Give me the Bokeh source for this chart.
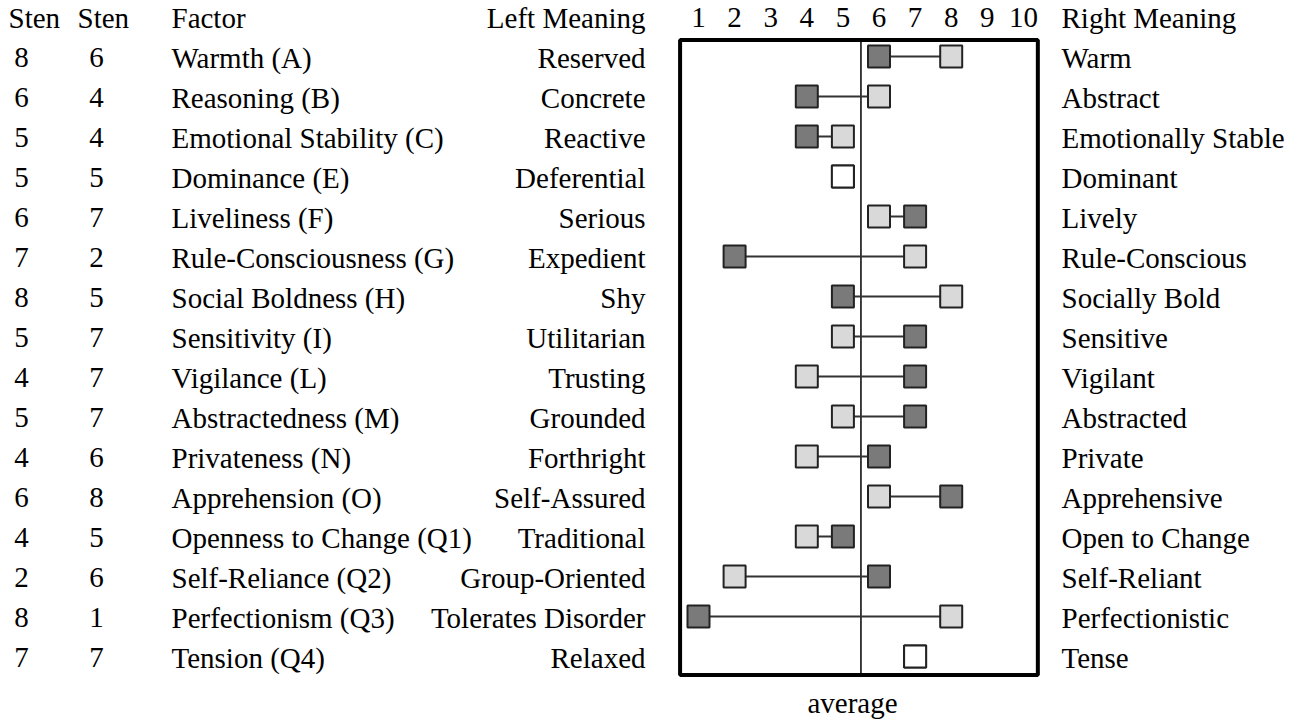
from bokeh.plotting import figure
from bokeh.models import Range1d, ColumnDataSource
from bokeh.core.properties import value
from bokeh.embed import file_html
from bokeh.resources import INLINE

# ---- data ----
factors = ["Warmth (A)", "Reasoning (B)", "Emotional Stability (C)", "Dominance (E)",
           "Liveliness (F)", "Rule-Consciousness (G)", "Social Boldness (H)", "Sensitivity (I)",
           "Vigilance (L)", "Abstractedness (M)", "Privateness (N)", "Apprehension (O)",
           "Openness to Change (Q1)", "Self-Reliance (Q2)", "Perfectionism (Q3)", "Tension (Q4)"]
left_meaning = ["Reserved", "Concrete", "Reactive", "Deferential", "Serious", "Expedient", "Shy",
                "Utilitarian", "Trusting", "Grounded", "Forthright", "Self-Assured", "Traditional",
                "Group-Oriented", "Tolerates Disorder", "Relaxed"]
right_meaning = ["Warm", "Abstract", "Emotionally Stable", "Dominant", "Lively", "Rule-Conscious",
                 "Socially Bold", "Sensitive", "Vigilant", "Abstracted", "Private", "Apprehensive",
                 "Open to Change", "Self-Reliant", "Perfectionistic", "Tense"]
sten1 = [8, 6, 5, 5, 6, 7, 8, 5, 4, 5, 4, 6, 4, 2, 8, 7]
sten2 = [6, 4, 4, 5, 7, 2, 5, 7, 7, 7, 6, 8, 5, 6, 1, 7]
ticks = list(range(1, 11))
headers = ["Sten", "Sten", "Factor", "Left Meaning", "Right Meaning"]

LIGHT = "#d9d9d9"
DARK = "#7a7a7a"
WHITE = "#ffffff"
FONT = value("Liberation Serif")
FS = "29px"

rows = list(range(len(factors)))
trows = [r + 0.03 for r in rows]

W, H = 1298, 720
UNIT = 36.1          # px per sten unit
X1 = 698.0           # px position of sten 1
ROW0, ROWH = 56.0, 40.0

p = figure(width=W, height=H, output_backend="svg", toolbar_location=None,
           x_range=Range1d(1 - X1 / UNIT, 1 + (W - X1) / UNIT),
           y_range=Range1d((H - ROW0) / ROWH, -ROW0 / ROWH),
           min_border=0, min_border_left=0, min_border_right=0,
           min_border_top=0, min_border_bottom=0)
p.extra_x_ranges = {"px": Range1d(0, W)}
p.axis.visible = False
p.grid.visible = False
p.outline_line_color = None
p.background_fill_color = "white"
p.border_fill_color = "white"

# box and average line
p.quad(left=[0.49], right=[10.4], top=[-0.41], bottom=[15.46],
       fill_color=None, line_color="black", line_width=4)
p.segment(x0=[5.5], x1=[5.5], y0=[-0.41], y1=[15.46], line_color="black", line_width=1.5)

# connecting segments
src = ColumnDataSource(dict(row=rows, s1=sten1, s2=sten2))
p.segment(x0="s1", x1="s2", y0="row", y1="row", source=src, line_color="#333333", line_width=2)

# squares
def colors(a, b, which):
    out = []
    for x, y in zip(a, b):
        if x == y:
            out.append(WHITE)
        else:
            out.append(LIGHT if which == 1 else DARK)
    return out

p.scatter(x=sten2, y=rows, marker="square", size=22, fill_color=colors(sten1, sten2, 2),
          line_color="#222222", line_width=2)
p.scatter(x=sten1, y=rows, marker="square", size=22, fill_color=colors(sten1, sten2, 1),
          line_color="#222222", line_width=2)

# tick labels on top
p.text(x=ticks, y=[-0.97] * len(ticks), text=[str(t) for t in ticks], text_align="center",
       text_baseline="middle", text_font=FONT, text_font_size=FS, text_color="black")

# headers
p.text(x=[8, 77, 171], y=[-0.97] * 3, text=headers[:3], text_align="left", text_baseline="middle",
       text_font=FONT, text_font_size=FS, text_color="black", x_range_name="px")
p.text(x=[645], y=[-0.97], text=[headers[3]], text_align="right", text_baseline="middle",
       text_font=FONT, text_font_size=FS, text_color="black", x_range_name="px")
p.text(x=[1061], y=[-0.97], text=[headers[4]], text_align="left", text_baseline="middle",
       text_font=FONT, text_font_size=FS, text_color="black", x_range_name="px")

# columns
n = len(rows)
p.text(x=[21] * n, y=trows, text=[str(v) for v in sten1], text_align="center",
       text_baseline="middle", text_font=FONT, text_font_size=FS, x_range_name="px")
p.text(x=[96] * n, y=trows, text=[str(v) for v in sten2], text_align="center",
       text_baseline="middle", text_font=FONT, text_font_size=FS, x_range_name="px")
p.text(x=[171] * n, y=trows, text=factors, text_align="left",
       text_baseline="middle", text_font=FONT, text_font_size=FS, x_range_name="px")
p.text(x=[645] * n, y=trows, text=left_meaning, text_align="right",
       text_baseline="middle", text_font=FONT, text_font_size=FS, x_range_name="px")
p.text(x=[1061] * n, y=trows, text=right_meaning, text_align="left",
       text_baseline="middle", text_font=FONT, text_font_size=FS, x_range_name="px")

# axis caption
p.text(x=[852], y=[16.15], text=["average"], text_align="center", text_baseline="middle",
       text_font=FONT, text_font_size=FS, text_color="black", x_range_name="px")

open("out.html", "w").write(file_html(p, INLINE))
